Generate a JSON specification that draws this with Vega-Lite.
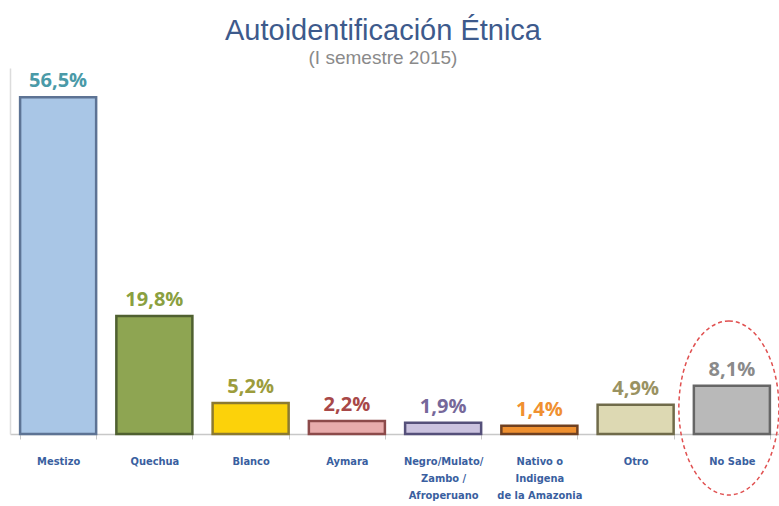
{
  "$schema": "https://vega.github.io/schema/vega-lite/v6.json",
  "autosize": "none",
  "width": 770,
  "height": 366,
  "padding": {"left": 10, "top": 68, "right": 1, "bottom": 72},
  "background": "#ffffff",
  "title": {
    "text": "Autoidentificación Étnica",
    "subtitle": "(I semestre 2015)",
    "anchor": "middle",
    "dx": -12,
    "offset": 0,
    "font": "Liberation Sans",
    "fontSize": 29,
    "fontWeight": "normal",
    "color": "#3d5a8c",
    "subtitleFont": "Liberation Sans",
    "subtitleFontSize": 19,
    "subtitleColor": "#8a8a8a",
    "subtitlePadding": 3
  },
  "config": {"view": {"stroke": null}},
  "data": {
    "values": [
      {"cat": "Mestizo", "pct": 56.5, "lab": "56,5%"},
      {"cat": "Quechua", "pct": 19.8, "lab": "19,8%"},
      {"cat": "Blanco", "pct": 5.2, "lab": "5,2%"},
      {"cat": "Aymara", "pct": 2.2, "lab": "2,2%"},
      {"cat": "Negro/Mulato/|Zambo /|Afroperuano", "pct": 1.9, "lab": "1,9%"},
      {"cat": "Nativo o|Indigena|de la Amazonia", "pct": 1.4, "lab": "1,4%"},
      {"cat": "Otro", "pct": 4.9, "lab": "4,9%"},
      {"cat": "No Sabe", "pct": 8.1, "lab": "8,1%"}
    ]
  },
  "encoding": {
    "x": {
      "field": "cat",
      "type": "nominal",
      "sort": null,
      "scale": {"paddingInner": 0.21, "paddingOuter": 0.105},
      "axis": {
        "title": null,
        "labelAngle": 0,
        "labelExpr": "split(datum.label, '|')",
        "labelFont": "DejaVu Sans Condensed",
        "labelFontWeight": "bold",
        "labelFontSize": 11,
        "labelColor": "#3a5fa0",
        "labelLineHeight": 17,
        "labelPadding": 22,
        "labelBaseline": "middle",
        "tickBand": "extent",
        "tickSize": 5,
        "tickColor": "#c8c8c8",
        "domainColor": "#c8c8c8",
        "domainWidth": 1.5,
        "grid": false
      }
    },
    "y": {
      "field": "pct",
      "type": "quantitative",
      "scale": {"domain": [0, 61.4]},
      "axis": {
        "title": null,
        "labels": false,
        "ticks": false,
        "grid": false,
        "domainColor": "#dcdcdc",
        "domainWidth": 1.5
      }
    }
  },
  "layer": [
    {
      "mark": {"type": "bar", "strokeWidth": 2.5},
      "encoding": {
        "fill": {
          "field": "cat",
          "type": "nominal",
          "sort": null,
          "legend": null,
          "scale": {"range": ["#a9c6e6", "#8ea552", "#fcd20a", "#e8acac", "#cbc3df", "#ef9030", "#ddd9b3", "#b9b9b9"]}
        },
        "stroke": {
          "field": "cat",
          "type": "nominal",
          "sort": null,
          "legend": null,
          "scale": {"range": ["#5d7394", "#4f6030", "#8c7a30", "#8c4a4a", "#55507a", "#704020", "#706b4a", "#666666"]}
        }
      }
    },
    {
      "mark": {"type": "text", "baseline": "bottom", "dy": -6, "font": "Open Sans", "fontWeight": "bold", "fontSize": 20},
      "encoding": {
        "text": {"field": "lab"},
        "color": {
          "field": "cat",
          "type": "nominal",
          "sort": null,
          "legend": null,
          "scale": {"range": ["#4a9aa8", "#8aa040", "#9c9c3c", "#a84848", "#76689a", "#f09030", "#9a9262", "#8a8a8a"]}
        }
      }
    },
    {
      "data": {"values": [{"cat": "No Sabe", "pct": 4.36}]},
      "mark": {
        "type": "point",
        "shape": "M 0 -1 C 0.3176 -1 0.575 -0.5523 0.575 0 C 0.575 0.5523 0.3176 1 0 1 C -0.3176 1 -0.575 0.5523 -0.575 0 C -0.575 -0.5523 -0.3176 -1 0 -1 Z",
        "size": 30276,
        "filled": false,
        "stroke": "#e05050",
        "strokeWidth": 1.5,
        "strokeDash": [4, 3],
        "opacity": 1,
        "xOffset": -3
      },
      "encoding": {}
    }
  ]
}
